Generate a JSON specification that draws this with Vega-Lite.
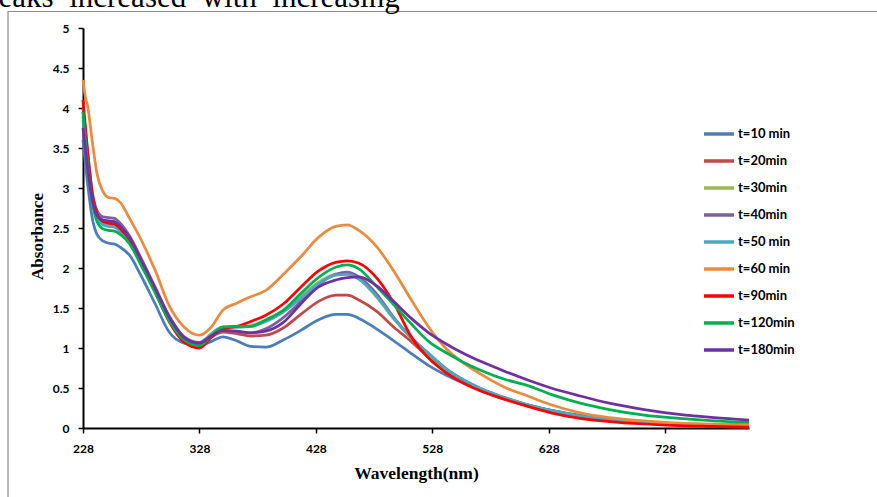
{
  "$schema": "https://vega.github.io/schema/vega-lite/v6.json",
  "width": 666,
  "height": 400,
  "autosize": "none",
  "padding": {"left": 83, "top": 28, "right": 128, "bottom": 69},
  "background": "white",
  "config": {"view": {"stroke": null}},
  "data": {"values": [
{"t":"t=10 min","w":228,"a":3.6},{"t":"t=10 min","w":232,"a":3.05},{"t":"t=10 min","w":236,"a":2.62},{"t":"t=10 min","w":240,"a":2.42},{"t":"t=10 min","w":245,"a":2.34},{"t":"t=10 min","w":250,"a":2.31},{"t":"t=10 min","w":255,"a":2.30},{"t":"t=10 min","w":260,"a":2.26},{"t":"t=10 min","w":268,"a":2.16},{"t":"t=10 min","w":278,"a":1.90},{"t":"t=10 min","w":290,"a":1.55},{"t":"t=10 min","w":302,"a":1.20},{"t":"t=10 min","w":315,"a":1.06},{"t":"t=10 min","w":328,"a":1.03},{"t":"t=10 min","w":338,"a":1.08},{"t":"t=10 min","w":348,"a":1.14},{"t":"t=10 min","w":360,"a":1.09},{"t":"t=10 min","w":372,"a":1.02},{"t":"t=10 min","w":385,"a":1.01},{"t":"t=10 min","w":400,"a":1.10},{"t":"t=10 min","w":415,"a":1.22},{"t":"t=10 min","w":430,"a":1.35},{"t":"t=10 min","w":445,"a":1.42},{"t":"t=10 min","w":455,"a":1.42},{"t":"t=10 min","w":465,"a":1.37},{"t":"t=10 min","w":480,"a":1.24},{"t":"t=10 min","w":495,"a":1.09},{"t":"t=10 min","w":510,"a":0.93},{"t":"t=10 min","w":525,"a":0.78},{"t":"t=10 min","w":540,"a":0.66},{"t":"t=10 min","w":555,"a":0.56},{"t":"t=10 min","w":570,"a":0.47},{"t":"t=10 min","w":590,"a":0.37},{"t":"t=10 min","w":610,"a":0.29},{"t":"t=10 min","w":630,"a":0.22},{"t":"t=10 min","w":655,"a":0.16},{"t":"t=10 min","w":680,"a":0.11},{"t":"t=10 min","w":710,"a":0.07},{"t":"t=10 min","w":740,"a":0.05},{"t":"t=10 min","w":770,"a":0.03},{"t":"t=10 min","w":800,"a":0.02},
{"t":"t=20min","w":228,"a":3.9},{"t":"t=20min","w":232,"a":3.35},{"t":"t=20min","w":236,"a":2.9},{"t":"t=20min","w":240,"a":2.68},{"t":"t=20min","w":245,"a":2.58},{"t":"t=20min","w":250,"a":2.56},{"t":"t=20min","w":255,"a":2.55},{"t":"t=20min","w":260,"a":2.49},{"t":"t=20min","w":268,"a":2.36},{"t":"t=20min","w":278,"a":2.08},{"t":"t=20min","w":290,"a":1.74},{"t":"t=20min","w":302,"a":1.38},{"t":"t=20min","w":315,"a":1.13},{"t":"t=20min","w":328,"a":1.06},{"t":"t=20min","w":338,"a":1.14},{"t":"t=20min","w":348,"a":1.20},{"t":"t=20min","w":360,"a":1.18},{"t":"t=20min","w":372,"a":1.15},{"t":"t=20min","w":385,"a":1.16},{"t":"t=20min","w":400,"a":1.25},{"t":"t=20min","w":415,"a":1.42},{"t":"t=20min","w":430,"a":1.58},{"t":"t=20min","w":445,"a":1.66},{"t":"t=20min","w":455,"a":1.66},{"t":"t=20min","w":465,"a":1.60},{"t":"t=20min","w":480,"a":1.46},{"t":"t=20min","w":495,"a":1.26},{"t":"t=20min","w":510,"a":1.08},{"t":"t=20min","w":525,"a":0.88},{"t":"t=20min","w":540,"a":0.70},{"t":"t=20min","w":555,"a":0.58},{"t":"t=20min","w":570,"a":0.47},{"t":"t=20min","w":590,"a":0.36},{"t":"t=20min","w":610,"a":0.28},{"t":"t=20min","w":630,"a":0.20},{"t":"t=20min","w":655,"a":0.13},{"t":"t=20min","w":680,"a":0.09},{"t":"t=20min","w":710,"a":0.06},{"t":"t=20min","w":740,"a":0.04},{"t":"t=20min","w":770,"a":0.02},{"t":"t=20min","w":800,"a":0.01},
{"t":"t=30min","w":228,"a":3.95},{"t":"t=30min","w":232,"a":3.4},{"t":"t=30min","w":236,"a":2.9},{"t":"t=30min","w":240,"a":2.66},{"t":"t=30min","w":245,"a":2.56},{"t":"t=30min","w":250,"a":2.54},{"t":"t=30min","w":255,"a":2.53},{"t":"t=30min","w":260,"a":2.48},{"t":"t=30min","w":268,"a":2.35},{"t":"t=30min","w":278,"a":2.07},{"t":"t=30min","w":290,"a":1.72},{"t":"t=30min","w":302,"a":1.36},{"t":"t=30min","w":315,"a":1.11},{"t":"t=30min","w":328,"a":1.05},{"t":"t=30min","w":338,"a":1.18},{"t":"t=30min","w":348,"a":1.26},{"t":"t=30min","w":360,"a":1.26},{"t":"t=30min","w":372,"a":1.28},{"t":"t=30min","w":385,"a":1.35},{"t":"t=30min","w":400,"a":1.47},{"t":"t=30min","w":415,"a":1.64},{"t":"t=30min","w":430,"a":1.82},{"t":"t=30min","w":445,"a":1.92},{"t":"t=30min","w":455,"a":1.93},{"t":"t=30min","w":465,"a":1.86},{"t":"t=30min","w":480,"a":1.64},{"t":"t=30min","w":495,"a":1.36},{"t":"t=30min","w":510,"a":1.12},{"t":"t=30min","w":525,"a":0.92},{"t":"t=30min","w":540,"a":0.73},{"t":"t=30min","w":555,"a":0.59},{"t":"t=30min","w":570,"a":0.48},{"t":"t=30min","w":590,"a":0.37},{"t":"t=30min","w":610,"a":0.28},{"t":"t=30min","w":630,"a":0.21},{"t":"t=30min","w":655,"a":0.14},{"t":"t=30min","w":680,"a":0.10},{"t":"t=30min","w":710,"a":0.06},{"t":"t=30min","w":740,"a":0.04},{"t":"t=30min","w":770,"a":0.03},{"t":"t=30min","w":800,"a":0.02},
{"t":"t=40min","w":228,"a":4.0},{"t":"t=40min","w":232,"a":3.45},{"t":"t=40min","w":236,"a":2.95},{"t":"t=40min","w":240,"a":2.72},{"t":"t=40min","w":245,"a":2.64},{"t":"t=40min","w":250,"a":2.63},{"t":"t=40min","w":255,"a":2.62},{"t":"t=40min","w":260,"a":2.56},{"t":"t=40min","w":268,"a":2.40},{"t":"t=40min","w":278,"a":2.12},{"t":"t=40min","w":290,"a":1.76},{"t":"t=40min","w":302,"a":1.40},{"t":"t=40min","w":315,"a":1.14},{"t":"t=40min","w":328,"a":1.07},{"t":"t=40min","w":338,"a":1.16},{"t":"t=40min","w":348,"a":1.22},{"t":"t=40min","w":360,"a":1.20},{"t":"t=40min","w":372,"a":1.19},{"t":"t=40min","w":385,"a":1.24},{"t":"t=40min","w":400,"a":1.38},{"t":"t=40min","w":415,"a":1.58},{"t":"t=40min","w":430,"a":1.79},{"t":"t=40min","w":445,"a":1.92},{"t":"t=40min","w":455,"a":1.95},{"t":"t=40min","w":465,"a":1.89},{"t":"t=40min","w":480,"a":1.68},{"t":"t=40min","w":495,"a":1.38},{"t":"t=40min","w":510,"a":1.13},{"t":"t=40min","w":525,"a":0.93},{"t":"t=40min","w":540,"a":0.74},{"t":"t=40min","w":555,"a":0.60},{"t":"t=40min","w":570,"a":0.49},{"t":"t=40min","w":590,"a":0.38},{"t":"t=40min","w":610,"a":0.29},{"t":"t=40min","w":630,"a":0.22},{"t":"t=40min","w":655,"a":0.15},{"t":"t=40min","w":680,"a":0.10},{"t":"t=40min","w":710,"a":0.07},{"t":"t=40min","w":740,"a":0.05},{"t":"t=40min","w":770,"a":0.04},{"t":"t=40min","w":800,"a":0.03},
{"t":"t=50 min","w":228,"a":3.85},{"t":"t=50 min","w":232,"a":3.3},{"t":"t=50 min","w":236,"a":2.85},{"t":"t=50 min","w":240,"a":2.62},{"t":"t=50 min","w":245,"a":2.54},{"t":"t=50 min","w":250,"a":2.52},{"t":"t=50 min","w":255,"a":2.51},{"t":"t=50 min","w":260,"a":2.46},{"t":"t=50 min","w":268,"a":2.33},{"t":"t=50 min","w":278,"a":2.05},{"t":"t=50 min","w":290,"a":1.71},{"t":"t=50 min","w":302,"a":1.35},{"t":"t=50 min","w":315,"a":1.10},{"t":"t=50 min","w":328,"a":1.04},{"t":"t=50 min","w":338,"a":1.17},{"t":"t=50 min","w":348,"a":1.26},{"t":"t=50 min","w":360,"a":1.26},{"t":"t=50 min","w":372,"a":1.27},{"t":"t=50 min","w":385,"a":1.33},{"t":"t=50 min","w":400,"a":1.45},{"t":"t=50 min","w":415,"a":1.62},{"t":"t=50 min","w":430,"a":1.80},{"t":"t=50 min","w":445,"a":1.91},{"t":"t=50 min","w":455,"a":1.92},{"t":"t=50 min","w":465,"a":1.86},{"t":"t=50 min","w":480,"a":1.65},{"t":"t=50 min","w":495,"a":1.37},{"t":"t=50 min","w":510,"a":1.13},{"t":"t=50 min","w":525,"a":0.93},{"t":"t=50 min","w":540,"a":0.74},{"t":"t=50 min","w":555,"a":0.60},{"t":"t=50 min","w":570,"a":0.49},{"t":"t=50 min","w":590,"a":0.38},{"t":"t=50 min","w":610,"a":0.29},{"t":"t=50 min","w":630,"a":0.22},{"t":"t=50 min","w":655,"a":0.15},{"t":"t=50 min","w":680,"a":0.10},{"t":"t=50 min","w":710,"a":0.07},{"t":"t=50 min","w":740,"a":0.05},{"t":"t=50 min","w":770,"a":0.04},{"t":"t=50 min","w":800,"a":0.03},
{"t":"t=60 min","w":228,"a":4.35},{"t":"t=60 min","w":230,"a":4.14},{"t":"t=60 min","w":232,"a":4.02},{"t":"t=60 min","w":236,"a":3.58},{"t":"t=60 min","w":240,"a":3.18},{"t":"t=60 min","w":245,"a":2.96},{"t":"t=60 min","w":250,"a":2.88},{"t":"t=60 min","w":255,"a":2.87},{"t":"t=60 min","w":260,"a":2.82},{"t":"t=60 min","w":268,"a":2.62},{"t":"t=60 min","w":278,"a":2.35},{"t":"t=60 min","w":290,"a":1.97},{"t":"t=60 min","w":302,"a":1.53},{"t":"t=60 min","w":315,"a":1.26},{"t":"t=60 min","w":328,"a":1.16},{"t":"t=60 min","w":338,"a":1.26},{"t":"t=60 min","w":348,"a":1.47},{"t":"t=60 min","w":360,"a":1.56},{"t":"t=60 min","w":372,"a":1.64},{"t":"t=60 min","w":385,"a":1.72},{"t":"t=60 min","w":400,"a":1.92},{"t":"t=60 min","w":415,"a":2.14},{"t":"t=60 min","w":430,"a":2.38},{"t":"t=60 min","w":445,"a":2.52},{"t":"t=60 min","w":455,"a":2.54},{"t":"t=60 min","w":465,"a":2.47},{"t":"t=60 min","w":480,"a":2.27},{"t":"t=60 min","w":495,"a":1.96},{"t":"t=60 min","w":510,"a":1.60},{"t":"t=60 min","w":525,"a":1.26},{"t":"t=60 min","w":540,"a":0.99},{"t":"t=60 min","w":555,"a":0.81},{"t":"t=60 min","w":570,"a":0.67},{"t":"t=60 min","w":590,"a":0.51},{"t":"t=60 min","w":610,"a":0.40},{"t":"t=60 min","w":630,"a":0.29},{"t":"t=60 min","w":655,"a":0.19},{"t":"t=60 min","w":680,"a":0.13},{"t":"t=60 min","w":710,"a":0.09},{"t":"t=60 min","w":740,"a":0.06},{"t":"t=60 min","w":770,"a":0.05},{"t":"t=60 min","w":800,"a":0.04},
{"t":"t=90min","w":228,"a":4.1},{"t":"t=90min","w":232,"a":3.45},{"t":"t=90min","w":236,"a":2.92},{"t":"t=90min","w":240,"a":2.68},{"t":"t=90min","w":245,"a":2.58},{"t":"t=90min","w":250,"a":2.56},{"t":"t=90min","w":255,"a":2.55},{"t":"t=90min","w":260,"a":2.49},{"t":"t=90min","w":268,"a":2.36},{"t":"t=90min","w":278,"a":2.07},{"t":"t=90min","w":290,"a":1.70},{"t":"t=90min","w":302,"a":1.33},{"t":"t=90min","w":315,"a":1.07},{"t":"t=90min","w":328,"a":1.00},{"t":"t=90min","w":338,"a":1.13},{"t":"t=90min","w":348,"a":1.24},{"t":"t=90min","w":360,"a":1.27},{"t":"t=90min","w":372,"a":1.33},{"t":"t=90min","w":385,"a":1.41},{"t":"t=90min","w":400,"a":1.55},{"t":"t=90min","w":415,"a":1.76},{"t":"t=90min","w":430,"a":1.96},{"t":"t=90min","w":445,"a":2.07},{"t":"t=90min","w":455,"a":2.09},{"t":"t=90min","w":465,"a":2.06},{"t":"t=90min","w":480,"a":1.88},{"t":"t=90min","w":495,"a":1.56},{"t":"t=90min","w":510,"a":1.14},{"t":"t=90min","w":525,"a":0.87},{"t":"t=90min","w":540,"a":0.69},{"t":"t=90min","w":555,"a":0.56},{"t":"t=90min","w":570,"a":0.46},{"t":"t=90min","w":590,"a":0.36},{"t":"t=90min","w":610,"a":0.27},{"t":"t=90min","w":630,"a":0.19},{"t":"t=90min","w":655,"a":0.12},{"t":"t=90min","w":680,"a":0.08},{"t":"t=90min","w":710,"a":0.05},{"t":"t=90min","w":740,"a":0.03},{"t":"t=90min","w":770,"a":0.02},{"t":"t=90min","w":800,"a":0.01},
{"t":"t=120min","w":228,"a":3.95},{"t":"t=120min","w":232,"a":3.3},{"t":"t=120min","w":236,"a":2.82},{"t":"t=120min","w":240,"a":2.58},{"t":"t=120min","w":245,"a":2.49},{"t":"t=120min","w":250,"a":2.47},{"t":"t=120min","w":255,"a":2.46},{"t":"t=120min","w":260,"a":2.42},{"t":"t=120min","w":268,"a":2.30},{"t":"t=120min","w":278,"a":2.03},{"t":"t=120min","w":290,"a":1.69},{"t":"t=120min","w":302,"a":1.34},{"t":"t=120min","w":315,"a":1.10},{"t":"t=120min","w":328,"a":1.03},{"t":"t=120min","w":338,"a":1.15},{"t":"t=120min","w":348,"a":1.26},{"t":"t=120min","w":360,"a":1.27},{"t":"t=120min","w":372,"a":1.27},{"t":"t=120min","w":385,"a":1.35},{"t":"t=120min","w":400,"a":1.47},{"t":"t=120min","w":415,"a":1.68},{"t":"t=120min","w":430,"a":1.88},{"t":"t=120min","w":445,"a":2.01},{"t":"t=120min","w":455,"a":2.04},{"t":"t=120min","w":465,"a":1.99},{"t":"t=120min","w":480,"a":1.77},{"t":"t=120min","w":495,"a":1.54},{"t":"t=120min","w":510,"a":1.30},{"t":"t=120min","w":525,"a":1.08},{"t":"t=120min","w":540,"a":0.94},{"t":"t=120min","w":555,"a":0.82},{"t":"t=120min","w":570,"a":0.72},{"t":"t=120min","w":590,"a":0.61},{"t":"t=120min","w":610,"a":0.53},{"t":"t=120min","w":630,"a":0.42},{"t":"t=120min","w":655,"a":0.31},{"t":"t=120min","w":680,"a":0.23},{"t":"t=120min","w":710,"a":0.16},{"t":"t=120min","w":740,"a":0.12},{"t":"t=120min","w":770,"a":0.09},{"t":"t=120min","w":800,"a":0.07},
{"t":"t=180min","w":228,"a":3.75},{"t":"t=180min","w":232,"a":3.25},{"t":"t=180min","w":236,"a":2.85},{"t":"t=180min","w":240,"a":2.66},{"t":"t=180min","w":245,"a":2.6},{"t":"t=180min","w":250,"a":2.59},{"t":"t=180min","w":255,"a":2.58},{"t":"t=180min","w":260,"a":2.52},{"t":"t=180min","w":268,"a":2.38},{"t":"t=180min","w":278,"a":2.10},{"t":"t=180min","w":290,"a":1.75},{"t":"t=180min","w":302,"a":1.39},{"t":"t=180min","w":315,"a":1.13},{"t":"t=180min","w":328,"a":1.06},{"t":"t=180min","w":338,"a":1.15},{"t":"t=180min","w":348,"a":1.22},{"t":"t=180min","w":360,"a":1.21},{"t":"t=180min","w":372,"a":1.19},{"t":"t=180min","w":385,"a":1.21},{"t":"t=180min","w":400,"a":1.32},{"t":"t=180min","w":415,"a":1.55},{"t":"t=180min","w":430,"a":1.76},{"t":"t=180min","w":445,"a":1.85},{"t":"t=180min","w":455,"a":1.88},{"t":"t=180min","w":465,"a":1.89},{"t":"t=180min","w":480,"a":1.78},{"t":"t=180min","w":495,"a":1.58},{"t":"t=180min","w":510,"a":1.37},{"t":"t=180min","w":525,"a":1.19},{"t":"t=180min","w":540,"a":1.05},{"t":"t=180min","w":555,"a":0.93},{"t":"t=180min","w":570,"a":0.83},{"t":"t=180min","w":590,"a":0.71},{"t":"t=180min","w":610,"a":0.60},{"t":"t=180min","w":630,"a":0.50},{"t":"t=180min","w":655,"a":0.40},{"t":"t=180min","w":680,"a":0.31},{"t":"t=180min","w":710,"a":0.23},{"t":"t=180min","w":740,"a":0.17},{"t":"t=180min","w":770,"a":0.13},{"t":"t=180min","w":800,"a":0.10}
  ]},
  "layer": [
    {
      "data": {"values": [{"frame": "chart area"}]},
      "mark": {"type": "rect", "fill": null, "fillOpacity": 0, "stroke": "#8c8c8c", "strokeWidth": 1.2},
      "encoding": {
        "x": {"datum": 163.6, "type": "quantitative", "scale": {"domain": [228, 800], "nice": false, "zero": false},
          "axis": {"title": "Wavelength(nm)", "values": [228, 328, 428, 528, 628, 728], "grid": false,
            "titleFont": "Liberation Serif", "titleFontSize": 17.5, "titleFontWeight": "bold", "titleColor": "black",
            "titleY": 50, "titleBaseline": "alphabetic",
            "labelFont": "Lato", "labelFontWeight": "bold", "labelFontSize": 12, "labelColor": "black", "labelPadding": 10,
            "labelFlush": false, "labelOverlap": false,
            "domainColor": "black", "domainWidth": 2, "tickColor": "black", "tickWidth": 1.5, "tickSize": 5}},
        "x2": {"datum": 930},
        "y": {"datum": 5.206, "type": "quantitative", "scale": {"domain": [0, 5], "nice": false, "zero": false},
          "axis": {"title": "Absorbance", "values": [0, 0.5, 1, 1.5, 2, 2.5, 3, 3.5, 4, 4.5, 5], "format": ".1~f", "grid": false,
            "titleFont": "Liberation Serif", "titleFontSize": 17, "titleFontWeight": "bold", "titleColor": "black",
            "titleX": -41, "titleY": 208, "titleBaseline": "alphabetic", "titleAngle": -90, "titleAlign": "center",
            "labelFont": "Lato", "labelFontWeight": "bold", "labelFontSize": 12, "labelColor": "black", "labelPadding": 9,
            "labelFlush": false, "labelOverlap": false,
            "domainColor": "black", "domainWidth": 2, "tickColor": "black", "tickWidth": 1.5, "tickSize": 5}},
        "y2": {"datum": -1}
      }
    },
    {
      "data": {"values": [{"label": "eaks\u00a0 increased\u00a0 with\u00a0 increasing"}]},
      "mark": {"type": "text", "font": "Liberation Serif", "fontSize": 31, "color": "black", "align": "left", "baseline": "alphabetic"},
      "encoding": {
        "text": {"field": "label", "type": "nominal"},
        "x": {"datum": 155.5, "type": "quantitative", "scale": {"domain": [228, 800], "nice": false, "zero": false},
          "axis": {"title": "Wavelength(nm)", "values": [228, 328, 428, 528, 628, 728], "grid": false,
            "titleFont": "Liberation Serif", "titleFontSize": 17.5, "titleFontWeight": "bold", "titleColor": "black",
            "titleY": 50, "titleBaseline": "alphabetic",
            "labelFont": "Lato", "labelFontWeight": "bold", "labelFontSize": 12, "labelColor": "black", "labelPadding": 10,
            "labelFlush": false, "labelOverlap": false,
            "domainColor": "black", "domainWidth": 2, "tickColor": "black", "tickWidth": 1.5, "tickSize": 5}},
        "y": {"datum": 5.2625, "type": "quantitative", "scale": {"domain": [0, 5], "nice": false, "zero": false},
          "axis": {"title": "Absorbance", "values": [0, 0.5, 1, 1.5, 2, 2.5, 3, 3.5, 4, 4.5, 5], "format": ".1~f", "grid": false,
            "titleFont": "Liberation Serif", "titleFontSize": 17, "titleFontWeight": "bold", "titleColor": "black",
            "titleX": -41, "titleY": 208, "titleBaseline": "alphabetic", "titleAngle": -90, "titleAlign": "center",
            "labelFont": "Lato", "labelFontWeight": "bold", "labelFontSize": 12, "labelColor": "black", "labelPadding": 9,
            "labelFlush": false, "labelOverlap": false,
            "domainColor": "black", "domainWidth": 2, "tickColor": "black", "tickWidth": 1.5, "tickSize": 5}}
      }
    },
    {
      "mark": {"type": "line", "strokeWidth": 2.75, "interpolate": "monotone"},
      "encoding": {
        "x": {"field": "w", "type": "quantitative", "scale": {"domain": [228, 800], "nice": false, "zero": false},
          "axis": {"title": "Wavelength(nm)", "values": [228, 328, 428, 528, 628, 728], "grid": false,
            "titleFont": "Liberation Serif", "titleFontSize": 17.5, "titleFontWeight": "bold", "titleColor": "black",
            "titleY": 50, "titleBaseline": "alphabetic",
            "labelFont": "Lato", "labelFontWeight": "bold", "labelFontSize": 12, "labelColor": "black", "labelPadding": 10,
            "labelFlush": false, "labelOverlap": false,
            "domainColor": "black", "domainWidth": 2, "tickColor": "black", "tickWidth": 1.5, "tickSize": 5}},
        "y": {"field": "a", "type": "quantitative", "scale": {"domain": [0, 5], "nice": false, "zero": false},
          "axis": {"title": "Absorbance", "values": [0, 0.5, 1, 1.5, 2, 2.5, 3, 3.5, 4, 4.5, 5], "format": ".1~f", "grid": false,
            "titleFont": "Liberation Serif", "titleFontSize": 17, "titleFontWeight": "bold", "titleColor": "black",
            "titleX": -41, "titleY": 208, "titleBaseline": "alphabetic", "titleAngle": -90, "titleAlign": "center",
            "labelFont": "Lato", "labelFontWeight": "bold", "labelFontSize": 12, "labelColor": "black", "labelPadding": 9,
            "labelFlush": false, "labelOverlap": false,
            "domainColor": "black", "domainWidth": 2, "tickColor": "black", "tickWidth": 1.5, "tickSize": 5}},
        "color": {"field": "t", "type": "nominal",
          "scale": {"domain": ["t=10 min", "t=20min", "t=30min", "t=40min", "t=50 min", "t=60 min", "t=90min", "t=120min", "t=180min"],
                    "range": ["#4A7EBB", "#BE4B48", "#98B954", "#7D60A0", "#46AAC5", "#EB8B3E", "#FF0000", "#00B050", "#7030A0"]},
          "legend": {"title": null, "orient": "none", "legendX": 619, "legendY": 89,
            "labelFont": "Lato", "labelFontWeight": "bold", "labelFontSize": 13, "labelColor": "black",
            "symbolType": "stroke", "symbolSize": 900, "symbolStrokeWidth": 3.5, "rowPadding": 3, "labelOffset": 2}}
      }
    }
  ]
}
